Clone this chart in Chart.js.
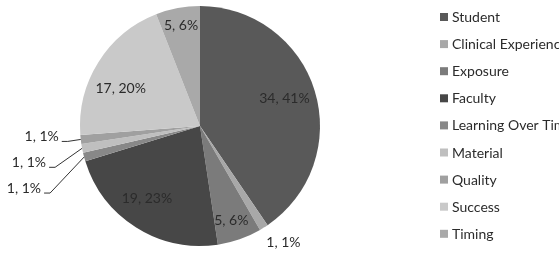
<!DOCTYPE html>
<html>
<head>
<meta charset="utf-8">
<script src="https://cdn.jsdelivr.net/npm/chart.js@4/dist/chart.umd.min.js"></script>
<style>
  html, body { margin: 0; padding: 0; background: #fff; }
  #wrap { width: 559px; height: 272px; }
</style>
</head>
<body>
<div id="wrap"><canvas id="grafico" width="559" height="272"></canvas></div>
<script>
// Datos
const categorias = ["Student", "Clinical Experience", "Exposure", "Faculty", "Learning Over Time",
                    "Material", "Quality", "Success", "Timing"];
const valores = [34, 1, 5, 19, 1, 1, 1, 17, 5];
const porcentajes = ["41%", "1%", "6%", "23%", "1%", "1%", "1%", "20%", "6%"];
const colores = ["#595959", "#a8a8a8", "#7b7b7b", "#474747", "#888888",
                 "#bfbfbf", "#a0a0a0", "#c9c9c9", "#a9a9a9"];

const fuente = "14px Lato, 'Open Sans', sans-serif";
const colorTexto = "#2b2b2b";

/*******************************************************************************/
// Etiquetas de las porciones

const etiquetasPlugin = {
    id: "etiquetas",
    afterDatasetsDraw(chart, args, opts) {
        const ctx = chart.ctx;
        const arcs = chart.getDatasetMeta(0).data;
        ctx.save();
        ctx.font = fuente;
        ctx.fillStyle = colorTexto;
        ctx.strokeStyle = "#333";
        ctx.lineWidth = 1;
        const pequenasIzq = [];
        arcs.forEach((arc, i) => {
            const texto = valores[i] + ", " + porcentajes[i];
            const mid = (arc.startAngle + arc.endAngle) / 2;
            const r = arc.outerRadius;
            const pequena = (arc.endAngle - arc.startAngle) < 0.15;
            if (!pequena) {
                const d = r * (opts.distancia[i] || 0.8);
                const ang = mid + (opts.giro[i] || 0) * Math.PI / 180;
                ctx.textAlign = "center";
                ctx.textBaseline = "middle";
                ctx.fillText(texto, arc.x + d * Math.cos(ang), arc.y + d * Math.sin(ang));
            } else if (Math.cos(mid) > 0) {
                const d = r * 1.15;
                ctx.textAlign = "center";
                ctx.textBaseline = "middle";
                ctx.fillText(texto, arc.x + 10 + d * Math.cos(mid), arc.y + d * Math.sin(mid));
            } else {
                pequenasIzq.push({ i, arc, mid, texto });
            }
        });
        // las pequeñas de la izquierda, de arriba hacia abajo
        pequenasIzq.sort((a, b) => Math.sin(a.mid) - Math.sin(b.mid));
        pequenasIzq.forEach((p, k) => {
            const r = p.arc.outerRadius;
            const ax = p.arc.x + r * Math.cos(p.mid);
            const ay = p.arc.y + r * Math.sin(p.mid);
            const ly = ay + 2 + k * 17;
            const lx = ax - opts.salto[k];
            ctx.beginPath();
            ctx.moveTo(ax, ay);
            ctx.lineTo(lx, ly);
            ctx.lineTo(lx - 6, ly);
            ctx.stroke();
            ctx.textAlign = "right";
            ctx.textBaseline = "alphabetic";
            ctx.fillText(p.texto, lx - 9, ly);
        });
        ctx.restore();
    }
};

/*******************************************************************************/
// Leyenda

const leyendaPlugin = {
    id: "leyenda",
    afterDraw(chart) {
        const ctx = chart.ctx;
        ctx.save();
        ctx.font = fuente;
        ctx.textAlign = "left";
        ctx.textBaseline = "middle";
        categorias.forEach((nombre, i) => {
            const y = 17 + i * 27.1;
            ctx.fillStyle = colores[i];
            ctx.fillRect(440, y - 4, 8, 8);
            ctx.fillStyle = colorTexto;
            ctx.fillText(nombre, 452, y + 0.5);
        });
        ctx.restore();
    }
};

/*******************************************************************************/
// Grafico

new Chart(document.getElementById("grafico"), {
    type: "pie",
    data: {
        labels: categorias,
        datasets: [{
            data: valores,
            backgroundColor: colores,
            borderWidth: 0
        }]
    },
    options: {
        responsive: false,
        animation: false,
        layout: { padding: { left: 80, right: 239, top: 6, bottom: 26 } },
        plugins: {
            legend: { display: false },
            tooltip: { enabled: false },
            etiquetas: {
                distancia: [0.74, 0, 0.83, 0.75, 0, 0, 0, 0.73, 0.85],
                giro: [-1, 0, 1, 4, 0, 0, 0, -7, 0],
                salto: [13, 27, 34]
            }
        }
    },
    plugins: [etiquetasPlugin, leyendaPlugin]
});
</script>
</body>
</html>
